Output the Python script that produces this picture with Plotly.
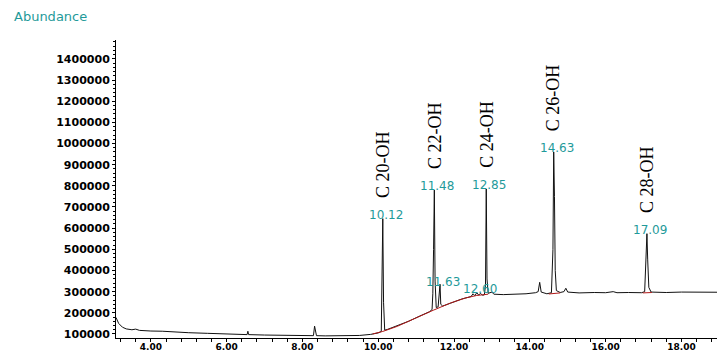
import plotly.graph_objects as go

# ---- data ----
time_min = [3.08, 3.15, 3.25, 3.35, 3.5, 3.6, 3.7, 3.85, 4.0, 4.3, 4.6, 5.0, 5.5, 6.0, 6.5,
            6.54, 6.56, 6.58, 7.0, 7.5, 8.0, 8.29, 8.32, 8.34, 8.37, 8.6, 9.0, 9.5, 9.8, 10.0,
            10.08, 10.10, 10.12, 10.14, 10.17, 10.25, 10.5, 10.8, 11.1, 11.35,
            11.42, 11.44, 11.46, 11.48, 11.50, 11.53, 11.58, 11.61, 11.63, 11.65, 11.70,
            11.9, 12.2, 12.45, 12.5, 12.55, 12.6, 12.65, 12.7, 12.75,
            12.8, 12.83, 12.85, 12.87, 12.9, 13.0, 13.05, 13.3, 13.6, 13.9,
            14.15, 14.22, 14.26, 14.3, 14.45, 14.57, 14.61, 14.63, 14.65, 14.67, 14.7,
            14.8, 14.9, 14.95, 15.0, 15.3, 15.7, 16.0, 16.2, 16.3, 16.6, 16.95,
            17.03, 17.06, 17.09, 17.11, 17.14, 17.2, 17.6, 18.0, 18.5, 19.0, 19.2]
abundance = [178000, 150000, 132000, 124000, 120000, 123000, 117000, 115000, 114000, 113000,
             109000, 106000, 103000, 100000, 97000,
             97000, 113000, 97000, 95000, 93000, 92000, 92000, 137000, 120000, 92000, 91000,
             91000, 93000, 98000, 105000,
             112000, 300000, 645000, 250000, 118000, 122000, 138000, 160000, 185000, 205000,
             215000, 290000, 500000, 780000, 350000, 225000, 228000, 300000, 335000, 240000, 232000,
             245000, 265000, 277000, 290000, 281000, 295000, 284000, 292000, 283000,
             285000, 330000, 785000, 360000, 292000, 298000, 288000, 286000, 287000, 290000,
             295000, 300000, 344000, 298000, 290000, 295000, 500000, 960000, 750000, 400000, 305000,
             296000, 300000, 316000, 298000, 294000, 296000, 295000, 300000, 295000, 296000, 295000,
             300000, 420000, 574000, 450000, 320000, 298000, 296000, 298000, 297000, 299000, 297000]

baseline_time = [9.85, 10.12, 10.5, 11.0, 11.45, 11.9, 12.3, 12.6, 12.9, None,
                 14.5, 14.8, None, 16.98, 17.22]
baseline_value = [100000, 112000, 136000, 178000, 212000, 246000, 270000, 282000, 288000, None,
                  289000, 294000, None, 294000, 296000]

peak_rt = [10.12, 11.48, 12.85, 14.63, 17.09]
peak_height = [645000, 780000, 785000, 960000, 574000]
peak_rt_labels = ["10.12", "11.48", "12.85", "14.63", "17.09"]
peak_names = ["C 20-OH", "C 22-OH", "C 24-OH", "C 26-OH", "C 28-OH"]

minor_rt = [11.63, 12.60]
minor_height = [335000, 295000]
minor_rt_labels = ["11.63", "12.60"]

y_tick_values = [100000, 200000, 300000, 400000, 500000, 600000, 700000,
                 800000, 900000, 1000000, 1100000, 1200000, 1300000, 1400000]
y_tick_labels = ["100000", "200000", "300000", "400000", "500000", "600000", "700000",
                 "800000", "900000", "1000000", "1100000", "1200000", "1300000", "1400000"]
x_tick_values = [4, 6, 8, 10, 12, 14, 16, 18]
x_tick_labels = ["4.00", "6.00", "8.00", "10.00", "12.00", "14.00", "16.00", "18.00"]

TEAL = "#1f9a9a"

# the page body adds an 8 px offset; figure size and margins compensate for it
FIG_W, FIG_H = 717, 344
M_L, M_R, M_T, M_B = 108, 0, 32, 12
PLOT_W = FIG_W - M_L - M_R
PLOT_H = FIG_H - M_T - M_B

fig = go.Figure()
fig.add_trace(go.Scatter(x=time_min, y=abundance, mode="lines",
                         line=dict(color="#111111", width=1), hoverinfo="skip"))
fig.add_trace(go.Scatter(x=baseline_time, y=baseline_value, mode="lines",
                         line=dict(color="#b01818", width=1), hoverinfo="skip",
                         connectgaps=False))

annotations = []
for t, h, lab, name in zip(peak_rt, peak_height, peak_rt_labels, peak_names):
    annotations.append(dict(x=t, y=h, xref="x", yref="y", text=lab, showarrow=False,
                            yanchor="middle", xanchor="center", yshift=4, xshift=3,
                            font=dict(family="DejaVu Sans", size=12, color=TEAL)))
    annotations.append(dict(x=t, y=h, xref="x", yref="y", text=name, showarrow=False,
                            textangle=-90, yanchor="bottom", xanchor="center", yshift=19,
                            font=dict(family="Liberation Serif", size=18, color="#000000")))
for t, h, lab, ys in zip(minor_rt, minor_height, minor_rt_labels, [2, 4]):
    annotations.append(dict(x=t, y=h, xref="x", yref="y", text=lab, showarrow=False,
                            yanchor="middle", xanchor="center", yshift=ys, xshift=3,
                            font=dict(family="DejaVu Sans", size=12, color=TEAL)))
annotations.append(dict(x=(4 - M_L) / PLOT_W, y=(M_T + PLOT_H - 8) / PLOT_H,
                        xref="paper", yref="paper", text="Abundance",
                        showarrow=False, xanchor="left", yanchor="middle",
                        font=dict(family="DejaVu Sans", size=13, color=TEAL)))

fig.update_layout(
    width=FIG_W, height=FIG_H,
    margin=dict(l=M_L, r=M_R, t=M_T, b=M_B),
    plot_bgcolor="white", paper_bgcolor="white",
    showlegend=False,
    annotations=annotations,
    xaxis=dict(range=[3.08, 19.15], showgrid=False, zeroline=False,
               showline=True, linecolor="#000000", linewidth=1,
               tickmode="array", tickvals=x_tick_values, ticktext=x_tick_labels,
               ticks="outside", ticklen=3, tickcolor="#000000", ticklabelstandoff=-3,
               minor=dict(dtick=0.4, tick0=0, ticks="outside", ticklen=3, tickcolor="#000000"),
               tickfont=dict(family="DejaVu Sans", size=9, color="#000000", weight="bold")),
    yaxis=dict(range=[81000, 1489000], showgrid=False, zeroline=False,
               showline=True, linecolor="#000000", linewidth=1,
               tickmode="array", tickvals=y_tick_values, ticktext=y_tick_labels,
               ticks="outside", ticklen=3, tickcolor="#000000",
               minor=dict(dtick=20000, tick0=0, ticks="outside", ticklen=2, tickcolor="#000000"),
               tickfont=dict(family="DejaVu Sans", size=11, color="#000000", weight="bold")),
)

fig.write_html("out.html")
